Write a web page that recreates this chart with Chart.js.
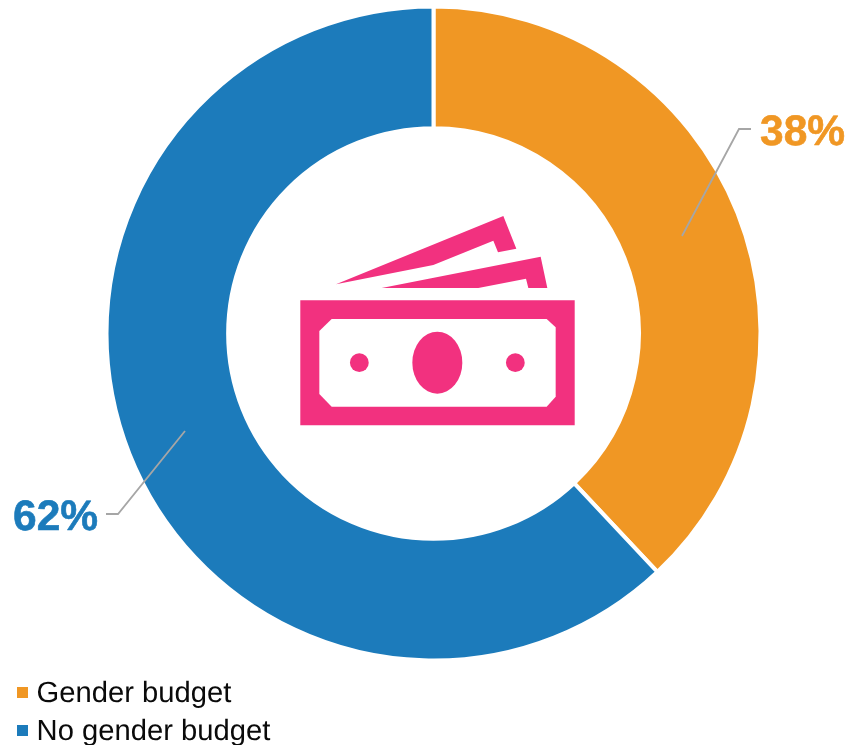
<!DOCTYPE html>
<html><head><meta charset="utf-8">
<style>html,body{margin:0;padding:0;background:#fff;overflow:hidden}#w{position:relative;width:847px;height:745px}canvas{display:block}</style>
<script src="https://cdn.jsdelivr.net/npm/chart.js@4"></script></head>
<body><div id="w"><canvas id="c" width="847" height="745"></canvas></div>
<script>
const categories = ["Gender budget", "No gender budget"];
const shares = [38, 62];
const sliceColors = ["#F09724", "#1C7BBB"];
const PINK = "#F2317F";
const FONT = '"Liberation Sans", Arial, sans-serif';

function poly(ctx, pts){
  ctx.beginPath();
  pts.forEach(function(p,i){
    const x = 280 + p[0]/3, y = 200 + p[1]/3;
    if(i) ctx.lineTo(x,y); else ctx.moveTo(x,y);
  });
  ctx.closePath();
}
const overlay = {
  id:'overlay',
  beforeLayout(chart){
    const lg = chart.legend;
    if(!lg._patched){
      const fit = lg.fit;
      lg.fit = function(){ fit.call(this); this._w = this.width; this._h = this.height; this.width = 0; this.height = 0; };
      lg._patched = true;
    }
  },
  afterLayout(chart){
    const lg = chart.legend;
    lg.left = 13; lg.right = 13 + lg._w; lg.width = lg._w;
    lg.top = 670.5; lg.bottom = 670.5 + lg._h; lg.height = lg._h;
  },
  beforeDraw(chart){
    chart.ctx.textRendering = 'geometricPrecision';
    chart.ctx.fontKerning = 'normal';
  },
  afterDraw(chart){
    const ctx = chart.ctx;
    ctx.save();
    chart.legend.legendHitBoxes.forEach(function(b,i){
      ctx.fillStyle = sliceColors[i];
      ctx.fillRect(17, Math.round(b.top + b.height/2 - 7), 11, 11);
    });
    ctx.restore();
  },
  afterDatasetsDraw(chart){
    const ctx = chart.ctx;
    ctx.save();
    // money icon
    ctx.fillStyle = PINK;
    ctx.beginPath(); ctx.rect(300.3,300.3,274.4,125);
    ctx.fill();
    poly(ctx,[[118,393],[155,357],[800,357],[827,382],[827,590],[800,620],[155,620],[118,582]]);
    ctx.fillStyle = '#fff'; ctx.fill();
    ctx.fillStyle = PINK;
    poly(ctx,[[168,253],[670,48],[709,146],[654,157],[640,122],[460,195]]); ctx.fill();
    poly(ctx,[[305,264],[782,170],[802,264],[745,264],[738,236],[595,264]]); ctx.fill();
    ctx.beginPath(); ctx.ellipse(280+472/3,200+488/3,25,31,0,0,Math.PI*2); ctx.fill();
    ctx.beginPath(); ctx.arc(280+238/3,200+488/3,9.4,0,Math.PI*2); ctx.fill();
    ctx.beginPath(); ctx.arc(280+706/3,200+488/3,9.4,0,Math.PI*2); ctx.fill();
    // leader lines
    ctx.strokeStyle = '#A6A6A6'; ctx.lineWidth = 1.8;
    ctx.beginPath(); ctx.moveTo(682,236); ctx.lineTo(739,129); ctx.lineTo(751,129); ctx.stroke();
    ctx.beginPath(); ctx.moveTo(185,431); ctx.lineTo(118,514); ctx.lineTo(106,514); ctx.stroke();
    // value labels
    ctx.font = 'bold 42.5px ' + FONT;
    ctx.textBaseline = 'alphabetic';
    ctx.textAlign = 'left';
    ctx.lineWidth = 0.6; ctx.lineJoin = 'round';
    ctx.fillStyle = ctx.strokeStyle = sliceColors[0];
    ctx.fillText(shares[0] + '%', 760, 145); ctx.strokeText(shares[0] + '%', 760, 145);
    ctx.fillStyle = ctx.strokeStyle = sliceColors[1];
    ctx.fillText(shares[1] + '%', 13, 530); ctx.strokeText(shares[1] + '%', 13, 530);
    ctx.restore();
  }
};
new Chart(document.getElementById('c'), {
  type:'doughnut',
  data:{labels:categories,datasets:[{data:shares,backgroundColor:sliceColors,borderColor:'#fff',borderWidth:4,hoverOffset:0}]},
  options:{
    responsive:false, animation:false, cutout:'62.8%', devicePixelRatio:1,
    layout:{padding:{left:104.5,right:84.5,top:4.5,bottom:82.5}},
    plugins:{
      tooltip:{enabled:false},
      legend:{display:true,position:'left',align:'start',
        labels:{boxWidth:0,boxHeight:11,padding:9,color:'#0A0A0A',font:{family:FONT,size:29.2}}}
    }
  },
  plugins:[overlay]
});
</script>
</body></html>
